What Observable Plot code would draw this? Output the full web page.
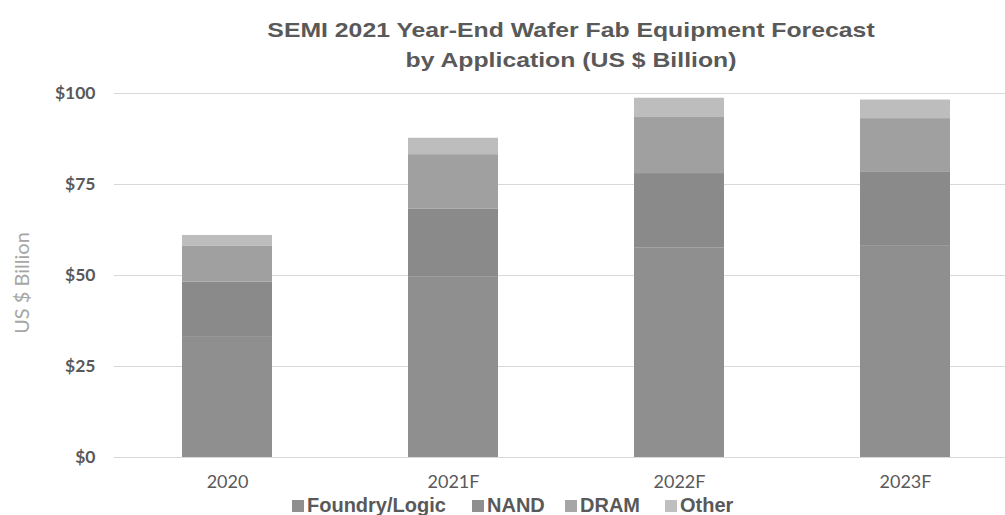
<!DOCTYPE html>
<html>
<head>
<meta charset="utf-8">
<script src="https://cdn.jsdelivr.net/npm/d3@7"></script>
<script src="https://cdn.jsdelivr.net/npm/@observablehq/plot@0.6"></script>
<style>
  html, body { margin: 0; padding: 0; background: #fff; }
  #wrap { position: relative; width: 1005px; height: 515px; overflow: hidden; background: #fff; }
  #title { position: absolute; left: 571px; top: 15px; transform: translateX(-50%) scaleX(1.18); text-align: center;
    font-family: "Liberation Sans", Arial, sans-serif; font-weight: bold; font-size: 21px; white-space: nowrap;
    line-height: 30px; color: #595959; }
  #ytitle { position: absolute; left: 21px; top: 283px; transform: translate(-50%, -50%) rotate(-90deg);
    font-family: Lato, "Open Sans", sans-serif; font-size: 20px; color: #a6a6a6; white-space: nowrap; }
  #chart { position: absolute; left: 0; top: 0; }
  #legend { position: absolute; left: 0; top: 0; width: 1005px; height: 515px;
    font-family: "Liberation Sans", Arial, sans-serif; font-weight: bold; font-size: 20px; color: #595959; }
  .item { position: absolute; top: 494px; display: flex; align-items: center; white-space: nowrap; }
  .sw { width: 12px; height: 12px; margin-right: 3px; }
</style>
</head>
<body>
<div id="wrap">
  <div id="chart"></div>
  <div id="title">SEMI 2021 Year-End Wafer Fab Equipment Forecast<br>by Application (US $ Billion)</div>
  <div id="ytitle">US $ Billion</div>
  <div id="legend"></div>
</div>
<script>
const years = ["2020", "2021F", "2022F", "2023F"];
const applications = ["Foundry/Logic", "NAND", "DRAM", "Other"];
const foundryLogic = [33.0, 49.5, 57.5, 58.2];
const nand = [15.2, 18.8, 20.5, 20.3];
const dram = [9.8, 14.9, 15.4, 14.6];
const other = [3.0, 4.5, 5.3, 5.1];
const yTicks = [0, 25, 50, 75, 100];
const colors = ["#8f8f8f", "#8a8a8a", "#a0a0a0", "#bdbdbd"];
const legendColors = ["#8f8f8f", "#8f8f8f", "#a6a6a6", "#bfbfbf"];
const legendX = [292, 472, 565, 665];

const series = [foundryLogic, nand, dram, other];
const rows = [];
applications.forEach((app, i) => {
  years.forEach((yr, j) => rows.push({year: yr, app, value: series[i][j]}));
});

const chart = Plot.plot({
  width: 1005,
  height: 515,
  marginLeft: 114,
  marginRight: -13,
  marginTop: 93,
  marginBottom: 58,
  style: {background: "transparent", overflow: "visible"},
  x: {domain: years, paddingInner: 0.6, paddingOuter: 0.3, label: null},
  y: {domain: [0, 100], label: null},
  color: {domain: applications, range: colors},
  marks: [
    Plot.gridY(yTicks, {stroke: "#d9d9d9", strokeOpacity: 1, strokeWidth: 1}),
    Plot.barY(rows, {x: "year", y: "value", fill: "app", inset: 0}),
    Plot.axisX({tickSize: 0, tickPadding: 18, fontSize: 18, fill: "#595959",
      fontFamily: "Lato, 'Open Sans', sans-serif"}),
    Plot.axisY({ticks: yTicks, tickSize: 0, tickPadding: 19, tickFormat: d => "$" + d,
      fontSize: 17.5, fontWeight: "bold", fill: "#595959", fontFamily: "Lato, 'Open Sans', sans-serif"})
  ]
});
document.getElementById("chart").appendChild(chart);

const legend = document.getElementById("legend");
applications.forEach((app, i) => {
  const it = document.createElement("div");
  it.className = "item";
  it.style.left = legendX[i] + "px";
  const sw = document.createElement("div");
  sw.className = "sw";
  sw.style.background = legendColors[i];
  it.appendChild(sw);
  const t = document.createElement("span");
  t.textContent = app;
  it.appendChild(t);
  legend.appendChild(it);
});
</script>
</body>
</html>
